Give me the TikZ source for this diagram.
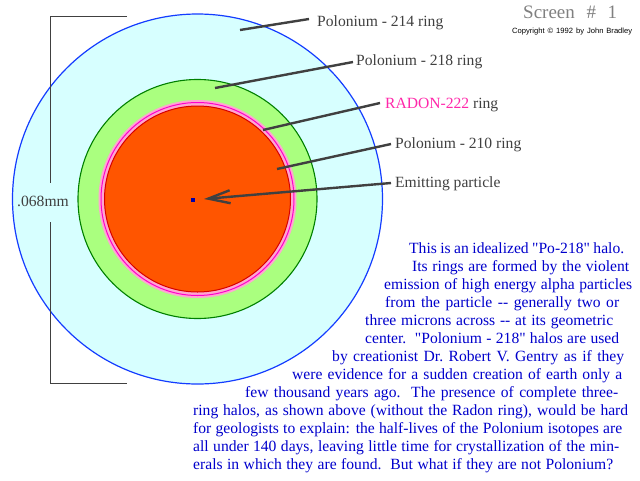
\documentclass[tikz,border=0pt]{standalone}
\usepackage{fontspec}
\setmainfont{Liberation Serif}
\newfontfamily\copyfont{Liberation Sans}
\usetikzlibrary{arrows.meta}
\definecolor{haloCyan}{RGB}{215,255,255}
\definecolor{haloBlue}{RGB}{20,60,255}
\definecolor{haloGreenFill}{RGB}{170,255,127}
\definecolor{haloGreenLine}{RGB}{0,128,0}
\definecolor{haloPink}{RGB}{255,165,210}
\definecolor{haloMagenta}{RGB}{255,0,204}
\definecolor{haloRed}{RGB}{215,0,0}
\definecolor{haloOrange}{RGB}{255,85,0}
\definecolor{dotBlue}{RGB}{0,0,170}
\definecolor{labelGray}{RGB}{64,64,64}
\definecolor{titleGray}{RGB}{128,128,128}
\definecolor{textBlue}{RGB}{0,0,204}
\definecolor{radonPink}{RGB}{255,40,170}
\tikzset{
  lbl/.style={inner sep=0, anchor=base west, text=labelGray, font=\fontsize{15.6}{18}\selectfont},
  para/.style={inner sep=0, anchor=base west, text=textBlue, font=\fontsize{15.6}{18}\selectfont},
  leader/.style={draw=labelGray, line width=2.4pt},
  bracket/.style={draw=labelGray, line width=1pt},
}
\begin{document}
\begin{tikzpicture}[x=1pt,y=-1pt]
\useasboundingbox[fill=white] (0,0) rectangle (640,480);
% halo rings
\coordinate (ctr) at (197.5,199);
\draw[fill=haloCyan, draw=haloBlue, line width=1.2pt] (ctr) circle (185);
\draw[fill=haloGreenFill, draw=haloGreenLine, line width=1.1pt] (ctr) circle (119.5);
\fill[haloPink] (ctr) circle (99);
\draw[haloMagenta, line width=1pt] (ctr) circle (96.5);
\draw[fill=haloOrange, draw=haloRed, line width=1pt] (ctr) circle (93);
\node[fill=dotBlue, minimum size=4pt, inner sep=0] (dot) at (193,200) {};
% dimension bracket
\coordinate (brTL) at (50,16);
\coordinate (brTR) at (127,16);
\coordinate (brBL) at (50,383);
\coordinate (brBR) at (127,383);
\coordinate (brGapTop) at (50,183);
\coordinate (brGapBot) at (50,222);
\draw[bracket] (brTR) -- (brTL) -- (brGapTop);
\draw[bracket] (brGapBot) -- (brBL) -- (brBR);
\node[lbl] (dim) at (17,206) {.068mm};
% leader lines
\coordinate (l214a) at (240,30);  \coordinate (l214b) at (309,19);
\coordinate (l218a) at (215,88);  \coordinate (l218b) at (353,62);
\coordinate (lRna) at (263,130);  \coordinate (lRnb) at (380,103);
\coordinate (l210a) at (277,169); \coordinate (l210b) at (391,144);
\coordinate (emA) at (391,183);   \coordinate (emTip) at (204,199);
\draw[leader] (l214a) -- (l214b);
\draw[leader] (l218a) -- (l218b);
\draw[leader] (lRna) -- (lRnb);
\draw[leader] (l210a) -- (l210b);
\draw[leader, -{Straight Barb[length=22pt,width=13pt]}] (emA) -- (emTip);
% labels
\node[lbl] (t214) at (317,26) {Polonium - 214 ring};
\node[lbl] (t218) at (356,65) {Polonium - 218 ring};
\node[lbl] (tRn) at (385,108) {\textcolor{radonPink}{RADON-222} ring};
\node[lbl] (t210) at (395,148) {Polonium - 210 ring};
\node[lbl] (tEm) at (395,187) {Emitting particle};
% title
\node[inner sep=0, anchor=base west, text=titleGray, font=\fontsize{19}{20}\selectfont] (title) at (523,18) {\makebox[94pt][s]{Screen \# 1}};
\node[inner sep=0, anchor=base west, text=black, font=\copyfont\fontsize{7.6}{8}\selectfont] (copy) at (512,33) {\makebox[120pt][s]{Copyright © 1992 by John Bradley}};
% paragraph
\node[para] (p1) at (409,253) {\makebox[215pt][s]{This is an idealized \textquotedbl Po-218\textquotedbl\ halo.}};
\node[para] (p2) at (412,271) {\makebox[217pt][s]{Its rings are formed by the violent}};
\node[para] (p3) at (384,289) {\makebox[248pt][s]{emission of high energy alpha particles}};
\node[para] (p4) at (385,307) {\makebox[234pt][s]{from the particle {-}{-} generally two or}};
\node[para] (p5) at (365,325) {\makebox[248pt][s]{three microns across {-}{-} at its geometric}};
\node[para] (p6) at (365,343) {\makebox[254pt][s]{center.\ \ \textquotedbl Polonium - 218\textquotedbl\ halos are used}};
\node[para] (p7) at (332,361) {\makebox[292pt][s]{by creationist Dr.\ Robert V. Gentry as if they}};
\node[para] (p8) at (292,379) {\makebox[330pt][s]{were evidence for a sudden creation of earth only a}};
\node[para] (p9) at (245,397) {\makebox[373pt][s]{few thousand years ago.\ \ The presence of complete three-}};
\node[para] (p10) at (193,415) {\makebox[435pt][s]{ring halos, as shown above (without the Radon ring), would be hard}};
\node[para] (p11) at (193,433) {\makebox[429pt][s]{for geologists to explain: the half-lives of the Polonium isotopes are}};
\node[para] (p12) at (193,451) {\makebox[426pt][s]{all under 140 days, leaving little time for crystallization of the min-}};
\node[para] (p13) at (193,469) {\makebox[420pt][s]{erals in which they are found.\ \ But what if they are not Polonium?}};
\end{tikzpicture}
\end{document}
